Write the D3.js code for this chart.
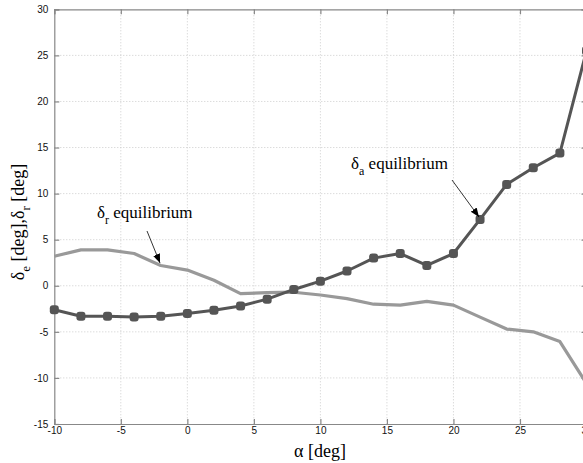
<!DOCTYPE html>
<html>
<head>
<meta charset="utf-8">
<script src="https://cdn.jsdelivr.net/npm/d3@7"></script>
<style>
  body { margin: 0; background: #fff; }
  svg { display: block; }
</style>
</head>
<body>
<svg width="583" height="463"></svg>
<script>
var alpha = [-10, -8, -6, -4, -2, 0, 2, 4, 6, 8, 10, 12, 14, 16, 18, 20, 22, 24, 26, 28, 30];
var deltaA = [-2.6, -3.3, -3.3, -3.4, -3.3, -3.0, -2.65, -2.2, -1.45, -0.4, 0.5, 1.6, 3.0, 3.5, 2.2, 3.5, 7.2, 11.0, 12.8, 14.4, 25.5];
var deltaR = [3.2, 3.9, 3.9, 3.5, 2.2, 1.7, 0.6, -0.85, -0.75, -0.7, -1.0, -1.4, -2.0, -2.1, -1.7, -2.1, -3.4, -4.7, -5.0, -6.05, -10.6];
var xTicks = [-10, -5, 0, 5, 10, 15, 20, 25, 30];
var yTicks = [-15, -10, -5, 0, 5, 10, 15, 20, 25, 30];

var svg = d3.select('svg');
var m = { left: 54.3, right: 586.5, top: 9.3, bottom: 424 };

var x = d3.scaleLinear().domain([-10, 30]).range([m.left, m.right]);
var y = d3.scaleLinear().domain([-15, 30]).range([m.bottom, m.top]);

// grid
svg.append('g')
  .selectAll('line')
  .data(xTicks.slice(1, -1))
  .enter().append('line')
  .attr('x1', d => x(d)).attr('x2', d => x(d))
  .attr('y1', m.top).attr('y2', m.bottom)
  .attr('stroke', '#ccc').attr('stroke-width', 1)
  .attr('stroke-dasharray', '1,2');
svg.append('g')
  .selectAll('line')
  .data(yTicks.slice(1, -1))
  .enter().append('line')
  .attr('x1', m.left).attr('x2', m.right)
  .attr('y1', d => y(d)).attr('y2', d => y(d))
  .attr('stroke', '#ccc').attr('stroke-width', 1)
  .attr('stroke-dasharray', '1,2');

// axes (ticks inward)
var axColor = '#888';
var fmt = d => String(d);
var gx = svg.append('g').attr('transform', 'translate(0,' + m.bottom + ')')
  .call(d3.axisBottom(x).tickValues(xTicks).tickSize(-5).tickPadding(3).tickFormat(fmt));
var gxt = svg.append('g').attr('transform', 'translate(0,' + m.top + ')')
  .call(d3.axisTop(x).tickValues(xTicks).tickSize(-5).tickFormat(''));
var gy = svg.append('g').attr('transform', 'translate(' + m.left + ',0)')
  .call(d3.axisLeft(y).tickValues(yTicks).tickSize(-5).tickPadding(6).tickFormat(fmt));
var gyr = svg.append('g').attr('transform', 'translate(' + m.right + ',0)')
  .call(d3.axisRight(y).tickValues(yTicks).tickSize(-5).tickFormat(''));

[gx, gxt, gy, gyr].forEach(function (g) {
  g.select('.domain').attr('stroke', axColor).attr('stroke-width', 1.2);
  g.selectAll('.tick line').attr('stroke', axColor).attr('stroke-width', 1.2);
  g.selectAll('.tick text')
    .attr('fill', '#111')
    .style('font-family', 'Liberation Sans, Arial, sans-serif')
    .style('font-size', '10px');
});

// lines
var line = d3.line()
  .x((d, i) => x(alpha[i]))
  .y(d => y(d));

svg.append('path')
  .datum(deltaR)
  .attr('d', line)
  .attr('fill', 'none')
  .attr('stroke', '#999')
  .attr('stroke-width', 3.2)
  .attr('stroke-linejoin', 'round');

svg.append('path')
  .datum(deltaA)
  .attr('d', line)
  .attr('fill', 'none')
  .attr('stroke', '#555')
  .attr('stroke-width', 3)
  .attr('stroke-linejoin', 'round');

svg.append('g')
  .selectAll('rect')
  .data(deltaA)
  .enter().append('rect')
  .attr('x', (d, i) => x(alpha[i]) - 4.5)
  .attr('y', d => y(d) - 4.5)
  .attr('width', 9).attr('height', 9)
  .attr('rx', 3)
  .attr('fill', '#555');

// annotations
svg.append('defs').append('marker')
  .attr('id', 'arr')
  .attr('viewBox', '0 0 10 10')
  .attr('refX', 10).attr('refY', 5)
  .attr('markerWidth', 9).attr('markerHeight', 9)
  .attr('markerUnits', 'userSpaceOnUse')
  .attr('orient', 'auto')
  .append('path').attr('d', 'M0,1 L10,5 L0,9 Z').attr('fill', '#000');

function note(tx, ty, sub, ax1, ay1, ax2, ay2) {
  var t = svg.append('text')
    .attr('x', tx).attr('y', ty)
    .style('font-family', 'Liberation Serif, Times New Roman, serif')
    .style('font-size', '17px')
    .attr('fill', '#000');
  t.append('tspan').text('δ');
  t.append('tspan').attr('dy', 6).style('font-size', '12px').text(sub);
  t.append('tspan').attr('dy', -6).text(' equilibrium');
  svg.append('line')
    .attr('x1', ax1).attr('y1', ay1)
    .attr('x2', ax2).attr('y2', ay2)
    .attr('stroke', '#000').attr('stroke-width', 0.8)
    .attr('marker-end', 'url(#arr)');
}
note(97, 218, 'r', 147, 231, 160, 263);
note(351, 169, 'a', 452, 180, 479, 217);

// axis labels
svg.append('text')
  .attr('x', 320).attr('y', 457)
  .attr('text-anchor', 'middle')
  .style('font-family', 'Liberation Serif, Times New Roman, serif')
  .style('font-size', '18px')
  .text('α [deg]');

var yl = svg.append('text')
  .attr('transform', 'translate(24,222) rotate(-90)')
  .attr('text-anchor', 'middle')
  .style('font-family', 'Liberation Serif, Times New Roman, serif')
  .style('font-size', '18px');
yl.append('tspan').text('δ');
yl.append('tspan').attr('dy', 6).style('font-size', '13px').text('e');
yl.append('tspan').attr('dy', -6).text(' [deg],δ');
yl.append('tspan').attr('dy', 6).style('font-size', '13px').text('r');
yl.append('tspan').attr('dy', -6).text(' [deg]');
</script>
</body>
</html>
